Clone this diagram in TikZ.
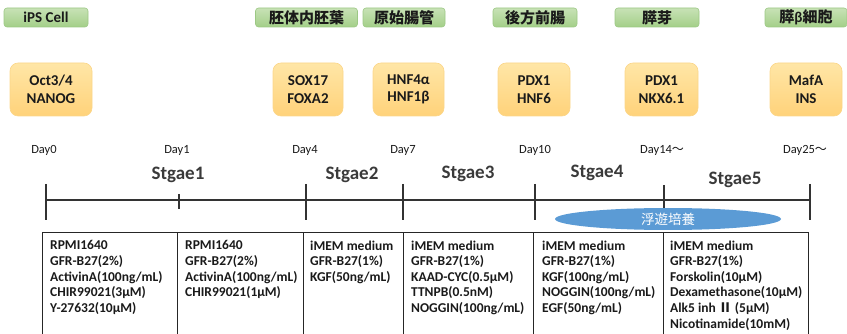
\documentclass[tikz,border=0pt]{standalone}
\usepackage{fontspec}
\usetikzlibrary{shapes.geometric}
\setmainfont{Carlito}
\newfontfamily\jp{Noto Sans CJK JP}
\definecolor{gtop}{HTML}{C8E2B6}
\definecolor{gbot}{HTML}{A3CF88}
\definecolor{gline}{HTML}{9CC884}
\definecolor{otop}{HTML}{FFE6A6}
\definecolor{obot}{HTML}{FFD27A}
\definecolor{oline}{HTML}{FBD68A}
\definecolor{ellblue}{HTML}{5B9BD5}
\definecolor{stagegray}{HTML}{3A3A3A}
\definecolor{txt}{HTML}{1A1A1A}
\begin{document}
\begin{tikzpicture}[x=1pt,y=-1pt,
  stagebox/.style={draw=gline, line width=0.6pt, rounded corners=3pt, top color=gtop, bottom color=gbot,
     minimum height=19pt, inner sep=0pt, text=txt, font=\jp\bfseries\fontsize{15}{17}\selectfont},
  markerbox/.style={draw=oline, line width=0.6pt, rounded corners=8pt, top color=otop, bottom color=obot,
     minimum height=53pt, inner sep=0pt, align=center, text=txt, font=\bfseries\fontsize{15}{17.5}\selectfont},
  daylbl/.style={font=\fontsize{12.5}{14}\selectfont, text=txt, inner sep=0pt},
  stagelbl/.style={font=\bfseries\fontsize{19}{21}\selectfont, text=stagegray, inner sep=0pt},
  tl/.style={line width=1.1pt, draw=black!80},
  cell/.style={anchor=north west, align=left, inner sep=0pt, text=txt,
     font=\bfseries\fontsize{13.5}{15.6}\selectfont},
  tab/.style={line width=0.9pt, draw=black!85}
]
\useasboundingbox (0,0) rectangle (847,334);
\clip (0,0) rectangle (847,334);

% green stage names
\node[stagebox, minimum width=84pt] (g0) at (46,17.5) {\fontspec{Carlito}\bfseries iPS Cell};
\node[stagebox, minimum width=102pt] (g1) at (306.5,17.5) {胚体内胚葉};
\node[stagebox, minimum width=82pt] (g2) at (404,17.5) {原始腸管};
\node[stagebox, minimum width=84pt] (g3) at (535,17.5) {後方前腸};
\node[stagebox, minimum width=84pt] (g4) at (657,17.5) {膵芽};
\node[stagebox, minimum width=82pt] (g5) at (806,17.5) {膵{\fontspec{Carlito}\bfseries β}細胞};

% orange markers
\node[markerbox, minimum width=82pt] (m0) at (51,89.5) {Oct3/4\\NANOG};
\node[markerbox, minimum width=70pt] (m1) at (308,89.5) {SOX17\\FOXA2};
\node[markerbox, minimum width=71pt] (m2) at (408.5,89.5) {HNF4α\\HNF1β};
\node[markerbox, minimum width=72pt] (m3) at (534,89.5) {PDX1\\HNF6};
\node[markerbox, minimum width=73pt] (m4) at (661.5,89.5) {PDX1\\NKX6.1};
\node[markerbox, minimum width=72pt] (m5) at (806,89.5) {MafA\\INS};

% day labels
\node[daylbl] (d0) at (44,150) {Day0};
\node[daylbl] (d1) at (177,150) {Day1};
\node[daylbl] (d4) at (305,150) {Day4};
\node[daylbl] (d7) at (403,150) {Day7};
\node[daylbl] (d10) at (535,150) {Day10};
\node[daylbl, anchor=west] (d14) at (640,150) {Day14{\jp\fontsize{12}{14}\selectfont 〜}};
\node[daylbl, anchor=west] (d25) at (783,150) {Day25{\jp\fontsize{12}{14}\selectfont 〜}};

% stage labels
\node[stagelbl] (s1) at (178,175) {Stgae1};
\node[stagelbl] (s2) at (352,175) {Stgae2};
\node[stagelbl] (s3) at (468,174) {Stgae3};
\node[stagelbl] (s4) at (597,173) {Stgae4};
\node[stagelbl] (s5) at (735,180) {Stgae5};

% timeline
\coordinate (t0) at (46,200);
\coordinate (t25) at (810,200);
\draw[tl] (t0) -- (t25);
\foreach \xx in {46,306,403,535,810} \draw[tl] (\xx,184) -- (\xx,220);
\draw[tl] (179,194) -- (179,209);
\draw[tl] (664,185) -- (664,214);

% floating culture
\node[ellipse, fill=ellblue, minimum width=226pt, minimum height=22pt, inner sep=0pt,
      text=white, font=\jp\fontsize{13.5}{15}\selectfont] (fl) at (668,219) {浮遊培養};

% table
\foreach \a/\b in {42/177,177/303,303/403,403/533,533/663,663/808}
  \draw[tab] (\a,340) -- (\a,232) -- (\b,232) -- (\b,340);

\node[cell] (c1) at (50,240.5) {RPMI1640\\GFR-B27(2\%)\\ActivinA(100ng/mL)\\CHIR99021(3μM)\\Y-27632(10μM)};
\node[cell] (c2) at (185,240.5) {RPMI1640\\GFR-B27(2\%)\\ActivinA(100ng/mL)\\CHIR99021(1μM)};
\node[cell] (c3) at (310,240.5) {iMEM medium\\GFR-B27(1\%)\\KGF(50ng/mL)};
\node[cell] (c4) at (411,240.5) {iMEM medium\\GFR-B27(1\%)\\KAAD-CYC(0.5μM)\\TTNPB(0.5nM)\\NOGGIN(100ng/mL)};
\node[cell] (c5) at (542,240.5) {iMEM medium\\GFR-B27(1\%)\\KGF(100ng/mL)\\NOGGIN(100ng/mL)\\EGF(50ng/mL)};
\node[cell] (c6) at (670,240.5) {iMEM medium\\GFR-B27(1\%)\\Forskolin(10μM)\\Dexamethasone(10μM)\\Alk5 inh {\jp\fontsize{13}{15.6}\selectfont Ⅱ} (5μM)\\Nicotinamide(10mM)};
\end{tikzpicture}
\end{document}
